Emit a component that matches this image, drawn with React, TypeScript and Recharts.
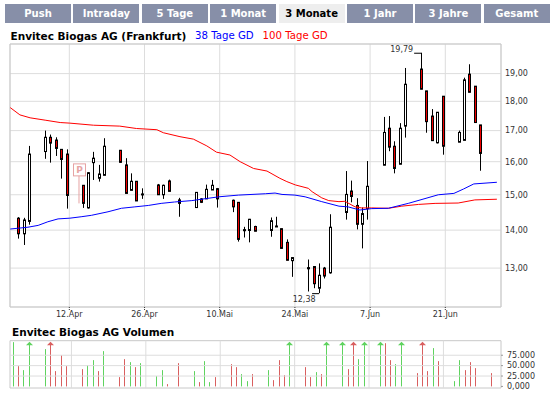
import React from "react";
import {
  ComposedChart,
  Bar,
  Line,
  XAxis,
  YAxis,
  CartesianGrid,
  ReferenceLine,
  ReferenceArea,
  ReferenceDot
} from "recharts";

const tabs = ["Push", "Intraday", "5 Tage", "1 Monat", "3 Monate", "1 Jahr", "3 Jahre", "Gesamt"];
const activeTab = "3 Monate";

// trading days, counted in calendar days from the first candle
const days = [
  0, 1, 2, 5, 6, 7, 8, 9, 12, 13, 14, 15, 16, 19, 20, 21, 22, 23, 26, 27, 28, 30,
  33, 34, 35, 36, 37, 40, 41, 42, 43, 44, 47, 48, 49, 50, 51, 54, 55, 56, 57, 58,
  61, 62, 63, 64, 65, 68, 69, 70, 71, 72, 75, 76, 77, 78, 79, 82, 83, 84, 85, 86
];
const opens = [
  14.33, 13.9, 14.24, 16.32, 16.78, 16.69, 16.39, 16.24, 15.28, 14.62, 15.97, 15.49, 15.58, 16.36, 15.9, 15.13, 15.4, 15.01, 15.29, 15.0, 15.41, 14.85,
  14.63, 14.88, 14.88, 15.14, 15.18, 14.84, 14.78, 14.0, 13.99, 14.1, 13.99, 14.1, 14.04, 13.67, 13.19, 13.0, 13.04, 12.5, 13.0, 12.88,
  14.49, 15.11, 14.69, 14.16, 14.6, 15.89, 17.08, 16.49, 15.92, 17.15, 19.17, 18.37, 17.49, 16.6, 18.18, 16.62, 16.68, 18.98, 18.54, 17.19
];
const highs = [
  14.36, 14.34, 16.5, 17.0, 16.87, 16.78, 16.39, 16.39, 15.28, 15.68, 16.31, 15.9, 16.75, 16.37, 16.11, 15.64, 15.4, 15.19, 15.32, 15.3, 15.45, 14.91,
  15.07, 14.9, 15.3, 15.44, 15.2, 14.86, 14.78, 14.09, 14.31, 14.12, 14.35, 14.37, 14.04, 13.75, 13.28, 13.22, 13.05, 13.12, 13.03, 14.44,
  15.71, 15.42, 14.9, 14.63, 16.02, 17.46, 17.49, 16.65, 17.25, 19.21, 19.79, 18.37, 17.73, 17.62, 18.18, 17.0, 18.85, 19.35, 18.54, 17.19
];
const lows = [
  13.77, 13.6, 14.15, 16.09, 15.97, 16.18, 15.48, 14.6, 14.62, 14.6, 15.44, 15.39, 15.58, 15.97, 15.04, 15.13, 14.82, 14.88, 15.0, 14.88, 15.1, 14.37,
  14.63, 14.76, 14.88, 15.14, 14.63, 14.5, 13.69, 13.8, 13.67, 13.97, 13.82, 14.09, 13.5, 13.2, 12.78, 12.42, 12.5, 12.38, 12.74, 12.86,
  14.29, 14.78, 14.02, 13.51, 14.29, 15.89, 16.33, 15.64, 15.92, 16.77, 18.43, 16.93, 16.67, 16.58, 16.22, 16.62, 16.68, 18.32, 17.27, 15.72
];
const closes = [
  13.9, 14.28, 16.24, 16.78, 16.59, 16.42, 16.07, 14.98, 14.75, 15.66, 16.11, 15.62, 16.49, 15.98, 15.04, 15.4, 14.82, 15.0, 15.0, 15.28, 15.1, 14.75,
  15.07, 14.78, 15.16, 15.28, 14.88, 14.65, 13.75, 13.97, 14.3, 13.97, 14.26, 14.09, 13.51, 13.2, 13.27, 12.97, 12.61, 12.82, 12.8, 14.08,
  15.01, 14.95, 14.16, 14.46, 15.25, 16.94, 16.46, 15.79, 17.08, 18.61, 18.43, 17.3, 16.67, 17.62, 16.49, 16.94, 18.77, 18.32, 17.27, 16.26
];

const ma38Days = [
  -1.5, 1.8, 3.7, 5.5, 7.4, 9.6, 11.7, 13.6, 16.7, 19.2, 21.7, 24.2, 26.6, 29.1, 32.3, 37.3, 41, 46, 47.8, 49.1,
  51.5, 53.4, 56.5, 59.7, 61.4, 63.6, 65.8, 68.9, 72.6, 78.2, 81.1, 82.9, 84.8, 89.1
];
const ma38Values = [
  14.03, 14.08, 14.13, 14.23, 14.31, 14.33, 14.37, 14.41, 14.51, 14.61, 14.65, 14.69, 14.75, 14.79, 14.83, 14.94, 14.99, 15.03, 15.05, 15.01,
  14.99, 14.94, 14.8, 14.67, 14.65, 14.56, 14.6, 14.61, 14.75, 15.0, 15.04, 15.17, 15.32, 15.37
];
const ma100Days = [
  -1.5, 0.3, 2.2, 5, 7.8, 9.6, 14, 18.9, 22, 25.8, 27, 30.1, 32.6, 35.1, 36.9, 39.4, 41.3, 43.8, 46.3, 48.7,
  50, 51.6, 54, 54.7, 56.5, 57.8, 59.7, 60.8, 62.7, 63.9, 65.8, 68.9, 71.4, 74.5, 77.6, 81.9, 85, 89.1
];
const ma100Values = [
  17.78, 17.53, 17.43, 17.35, 17.27, 17.25, 17.18, 17.15, 17.07, 17.03, 16.93, 16.8, 16.72, 16.5, 16.3, 16.21, 16.0, 15.79, 15.71, 15.49,
  15.39, 15.29, 15.19, 15.09, 14.91, 14.83, 14.8, 14.81, 14.65, 14.62, 14.62, 14.61, 14.67, 14.72, 14.75, 14.76, 14.85, 14.87
];

const volDays = [
  -1, 0, 1, 2, 5, 6, 7, 8, 9, 12, 13, 14, 15, 16, 19, 20, 21, 22, 23, 26, 27, 28, 30,
  33, 34, 35, 36, 37, 40, 41, 42, 43, 44, 47, 48, 49, 50, 51, 54, 55, 56, 57, 58,
  61, 62, 63, 64, 65, 68, 69, 70, 71, 72, 75, 76, 77, 78, 79, 82, 83, 84, 85, 86, 89
];
// values above 110.000 run off the top of the panel and get an arrow
const volValues = [
  106500, 48800, 39200, 135000, 89700, 135000, 36800, 75200, 48800, 41600, 51200, 63200, 36800, 84900, 22400, 65600, 58400, 46400, 56000, 24800, 39200, 5500, 56000,
  36800, 10300, 60800, 10300, 22400, 53600, 46400, 29600, 12700, 29600, 39200, 15100, 63200, 27200, 135000, 46400, 22400, 34400, 29600, 135000,
  135000, 41600, 135000, 65600, 135000, 135000, 104000, 63200, 53600, 135000, 32000, 135000, 36800, 92200, 60800, 12700, 63200, 39200, 58400, 44000, 32000
];
const volUp = [
  1, 0, 1, 1, 1, 0, 0, 0, 0, 0, 1, 1, 0, 1, 0, 0, 1, 0, 1, 1, 1, 0, 0,
  1, 0, 1, 1, 0, 0, 0, 1, 1, 0, 1, 0, 0, 0, 1, 0, 0, 1, 0, 1,
  1, 0, 0, 1, 1, 1, 0, 0, 1, 1, 0, 0, 0, 1, 0, 1, 1, 0, 0, 0, 0
];

const dateTicks = [9.5, 23.5, 37.5, 51.5, 65.5, 79.5];
const dateLabels = ["12.Apr", "26.Apr", "10.Mai", "24.Mai", "7.Jun", "21.Jun"];
const volGridDays = [10, 24, 38, 52, 66, 80];
const priceTicks = [13, 14, 15, 16, 17, 18, 19];
const volTicks = [0, 25000, 50000, 75000];
const volTickLabels = ["0,000", "25.000", "50.000", "75.000"];

const PRICE_DOMAIN: [number, number] = [12.05, 20.13];
const DAY_DOMAIN: [number, number] = [-1.545, 89.87];
const VOL_DAY_DOMAIN: [number, number] = [-1.56, 90.83];
const VOL_MAX = 110000;
const VOL_DOMAIN: [number, number] = [-3800, VOL_MAX];

const candles = days.map((t, i) => ({ t, open: opens[i], high: highs[i], low: lows[i], close: closes[i] }));
const ma38 = ma38Days.map((t, i) => ({ t, v: ma38Values[i] }));
const ma100 = ma100Days.map((t, i) => ({ t, v: ma100Values[i] }));
const volumes = volDays.map((t, i) => ({ t, vol: volValues[i], up: volUp[i] === 1 }));

const font = "'DejaVu Sans', Verdana, sans-serif";
const axisTick = { fill: "#333", fontSize: 8, fontFamily: font };

const fmtPrice = (v: number) => v.toFixed(2).replace(".", ",");

function Candle(props: any) {
  const { x, y, width, height, payload } = props;
  if (!payload || height == null || isNaN(y)) return null;
  const { open, close, high, low } = payload;
  const cx = Math.round(x + width / 2);
  const span = Math.log(high) - Math.log(low);
  // log scale: place open/close between the high and low the axis gave us
  const toY = (v: number) => (span > 0 ? y + (height * (Math.log(high) - Math.log(v))) / span : y);
  const yO = toY(open);
  const yC = toY(close);
  const top = Math.min(yO, yC);
  const bot = Math.max(yO, yC);
  const doji = Math.abs(open - close) / close < 0.003;
  return (
    <g>
      <line x1={cx + 0.5} x2={cx + 0.5} y1={y} y2={y + height} stroke="#000" strokeWidth={1} />
      {doji ? (
        <rect x={cx - 1} y={top - 1} width={3} height={Math.max(2, bot - top + 1)} fill="#000" />
      ) : (
        <rect
          x={cx - 0.5}
          y={top}
          width={2}
          height={bot - top}
          fill={close < open ? "#ee0000" : "#ffffff"}
          stroke="#000"
          strokeWidth={1}
        />
      )}
    </g>
  );
}

function VolumeBar(props: any) {
  const { x, y, width, height, payload } = props;
  if (!payload || height == null || isNaN(y)) return null;
  const bottom = y + height;
  const over = payload.vol > VOL_MAX;
  const top = over ? bottom - height * (VOL_MAX / payload.vol) : y;
  const cx = Math.round(x + width / 2) + 0.5;
  const color = payload.up ? "#5fd35f" : "#d95f5f";
  return (
    <g>
      <line x1={cx} x2={cx} y1={over ? top + 2 : top} y2={bottom} stroke={color} strokeWidth={1} />
      {over && <path d={`M${cx - 3.5},${top + 4.5} L${cx},${top + 1} L${cx + 3.5},${top + 4.5} Z`} fill={color} />}
    </g>
  );
}

const HighLabel = (props: any) => {
  const { cx, cy } = props;
  return (
    <g>
      <line x1={cx - 7} x2={cx} y1={cy + 0.5} y2={cy + 0.5} stroke="#000" />
      <text x={cx - 8} y={cy - 0.5} textAnchor="end" fontSize={8} fontFamily={font} fill="#333">
        19,79
      </text>
    </g>
  );
};

const LowLabel = (props: any) => {
  const { cx, cy } = props;
  return (
    <g>
      <line x1={cx - 7} x2={cx} y1={cy + 0.5} y2={cy + 0.5} stroke="#000" />
      <text x={cx - 3.5} y={cy + 8.5} textAnchor="end" fontSize={8} fontFamily={font} fill="#333">
        12,38
      </text>
    </g>
  );
};

const NewsMarker = (props: any) => {
  const { cx, cy } = props;
  const c = "#e6a3a3";
  return (
    <g>
      <line x1={cx} x2={cx} y1={cy - 28} y2={cy} stroke={c} strokeWidth={1} />
      <rect x={cx - 5.5} y={cy - 39.5} width={12} height={12} fill="#fff" stroke={c} strokeWidth={1} />
      <text x={cx + 0.5} y={cy - 30} textAnchor="middle" fontSize={9} fontWeight="bold" fontFamily={font} fill={c}>
        P
      </text>
    </g>
  );
};

export default function App() {
  return (
    <div
      style={{
        position: "absolute",
        left: 0,
        top: 0,
        width: 555,
        height: 397,
        background: "#fff",
        fontFamily: font,
        overflow: "hidden"
      }}
    >
      {tabs.map((name, i) => (
        <div
          key={name}
          style={{
            position: "absolute",
            left: 5 + i * 68.4,
            top: 4,
            width: 66,
            height: 19,
            background: name === activeTab ? "#eeeeee" : "#878fa8",
            color: name === activeTab ? "#000" : "#fff",
            fontWeight: "bold",
            fontSize: 10,
            lineHeight: "19px",
            textAlign: "center"
          }}
        >
          {name}
        </div>
      ))}

      <div style={{ position: "absolute", left: 10.5, top: 30.5, fontSize: 10.5, lineHeight: "10.5px", fontWeight: "bold", whiteSpace: "nowrap" }}>
        Envitec Biogas AG (Frankfurt)
      </div>
      <div style={{ position: "absolute", left: 195, top: 30.8, fontSize: 10.2, lineHeight: "10.2px", color: "#0000ff", whiteSpace: "nowrap" }}>
        38 Tage GD
      </div>
      <div style={{ position: "absolute", left: 262.5, top: 30.8, fontSize: 10.2, lineHeight: "10.2px", color: "#ff0000", whiteSpace: "nowrap" }}>
        100 Tage GD
      </div>

      <div style={{ position: "absolute", left: 0, top: 0 }}>
        <ComposedChart width={555} height={330} data={candles} margin={{ top: 44, right: 4, bottom: 3, left: 10 }}>
          <CartesianGrid stroke="#dddddd" />
          <XAxis
            type="number"
            dataKey="t"
            domain={DAY_DOMAIN}
            allowDataOverflow
            ticks={dateTicks}
            interval={0}
            tickFormatter={(v: number) => dateLabels[dateTicks.indexOf(v)] ?? ""}
            height={20}
            tickSize={3}
            tickMargin={1}
            axisLine={false}
            tickLine={{ stroke: "#333", strokeDasharray: "1 1" }}
            tick={axisTick}
          />
          <YAxis
            orientation="right"
            scale="log"
            domain={PRICE_DOMAIN}
            allowDataOverflow
            ticks={priceTicks}
            interval={0}
            tickFormatter={fmtPrice}
            width={50}
            tickSize={2}
            tickMargin={2}
            axisLine={false}
            tickLine={false}
            tick={axisTick}
          />
          <ReferenceArea
            x1={DAY_DOMAIN[0]}
            x2={DAY_DOMAIN[1]}
            y1={PRICE_DOMAIN[0]}
            y2={PRICE_DOMAIN[1]}
            fill="none"
            stroke="#c8c8c8"
            ifOverflow="visible"
          />
          <Line data={ma100} dataKey="v" stroke="#ff0000" strokeWidth={1} dot={false} isAnimationActive={false} />
          <Line data={ma38} dataKey="v" stroke="#0000ff" strokeWidth={1} dot={false} isAnimationActive={false} />
          <Bar
            dataKey={(d: any) => [d.low, d.high]}
            barSize={3}
            shape={<Candle />}
            isAnimationActive={false}
          />
          <ReferenceDot x={75} y={19.79} shape={HighLabel} ifOverflow="visible" />
          <ReferenceDot x={56} y={12.38} shape={LowLabel} ifOverflow="visible" />
          <ReferenceDot x={11.3} y={14.75} shape={NewsMarker} ifOverflow="visible" />
        </ComposedChart>
      </div>

      <div style={{ position: "absolute", left: 12, top: 327, fontSize: 10.5, lineHeight: "10.5px", fontWeight: "bold", whiteSpace: "nowrap" }}>
        Envitec Biogas AG Volumen
      </div>

      <div style={{ position: "absolute", left: 0, top: 330 }}>
        <ComposedChart width={555} height={67} data={volumes} margin={{ top: 10.7, right: 4, bottom: 9, left: 10 }}>
          <XAxis type="number" dataKey="t" domain={VOL_DAY_DOMAIN} allowDataOverflow hide />
          <YAxis
            orientation="right"
            domain={VOL_DOMAIN}
            allowDataOverflow
            ticks={volTicks}
            interval={0}
            tickFormatter={(v: number) => volTickLabels[volTicks.indexOf(v)] ?? ""}
            width={50}
            tickSize={2}
            tickMargin={4}
            axisLine={false}
            tickLine={{ stroke: "#999" }}
            tick={axisTick}
          />
          {volTicks.slice(1).map((v) => (
            <ReferenceLine key={v} y={v} stroke="#dddddd" />
          ))}
          {volGridDays.map((d) => (
            <ReferenceLine key={d} x={d} stroke="#dddddd" />
          ))}
          <ReferenceArea
            x1={VOL_DAY_DOMAIN[0]}
            x2={VOL_DAY_DOMAIN[1]}
            y1={VOL_DOMAIN[0]}
            y2={VOL_DOMAIN[1]}
            fill="none"
            stroke="#c8c8c8"
            ifOverflow="visible"
          />
          <Bar dataKey="vol" barSize={1} shape={<VolumeBar />} isAnimationActive={false} />
        </ComposedChart>
      </div>
    </div>
  );
}
